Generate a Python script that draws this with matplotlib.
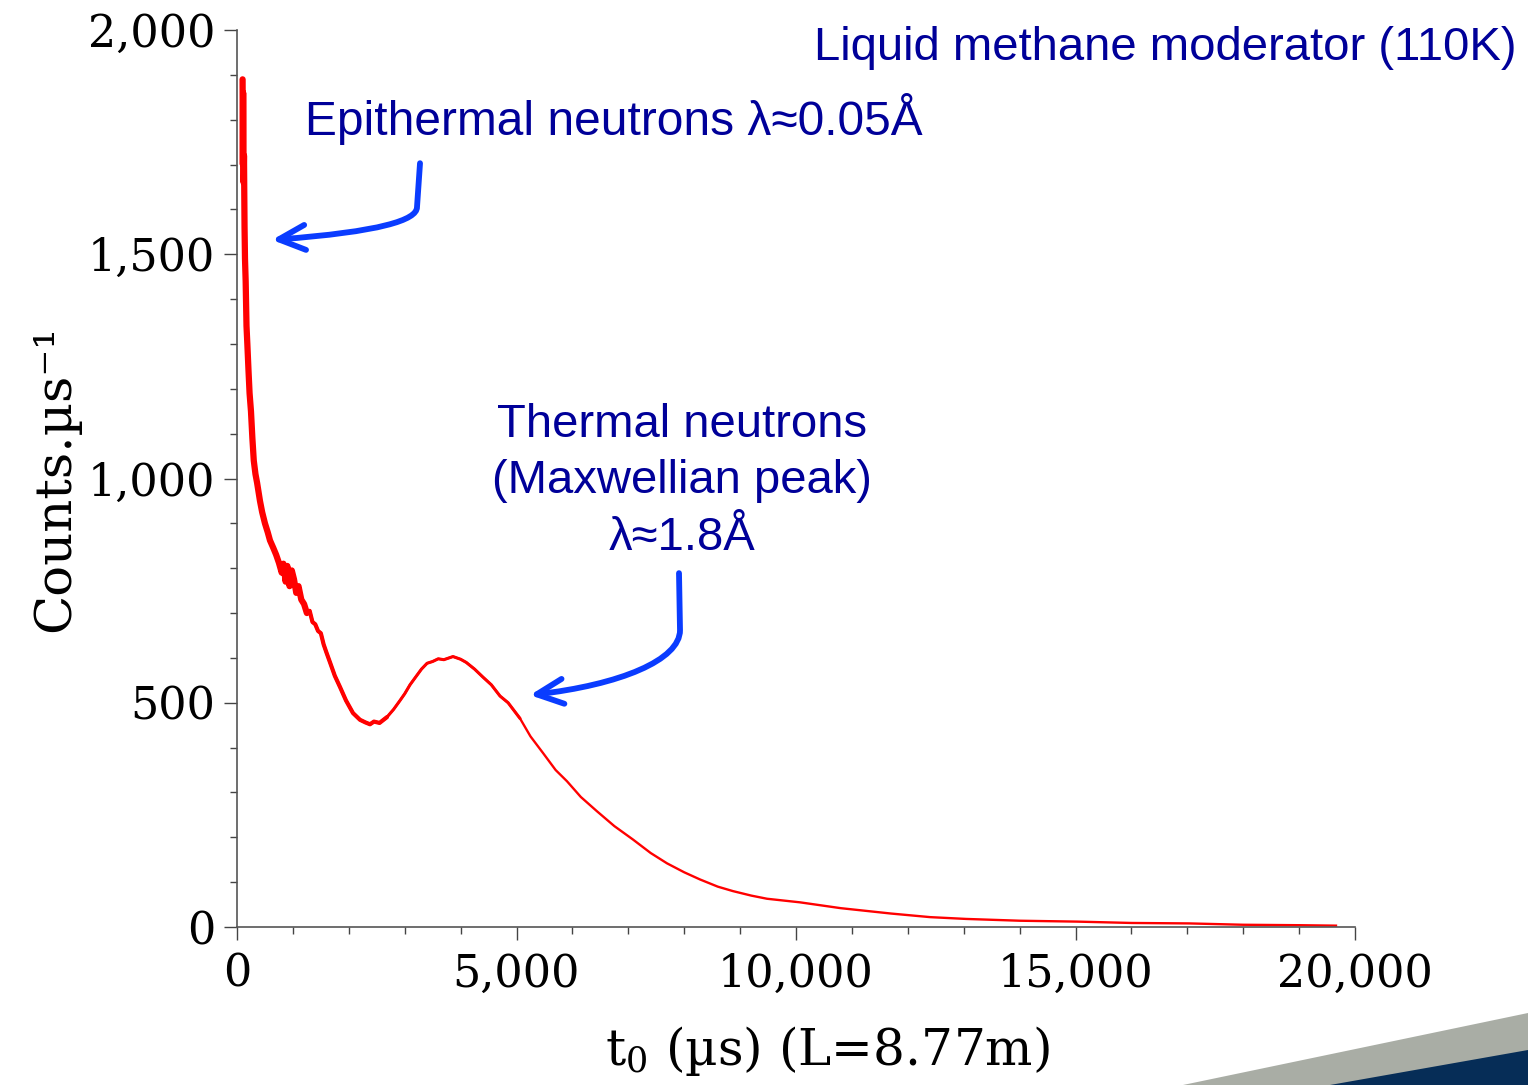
import matplotlib
matplotlib.use("Agg")
import matplotlib.pyplot as plt
from matplotlib.path import Path
from matplotlib.patches import FancyArrowPatch, Polygon
from matplotlib.ticker import MultipleLocator, FuncFormatter

# time of flight (us) and counts per us
t_us = [100, 105, 110, 118, 125, 135, 143, 155, 170, 185, 206, 225, 250, 275, 300,
        330, 360, 411, 450, 500, 550, 590, 650, 700, 750, 800, 830, 870, 900, 940,
        980, 1020, 1060, 1100, 1150, 1200, 1250, 1300, 1350, 1400, 1450, 1500, 1550,
        1600, 1664, 1750, 1843, 1950, 2075, 2200, 2300, 2379, 2450, 2550, 2683, 2800,
        2916, 3000, 3095, 3200, 3300, 3400, 3500, 3600, 3700, 3864, 4000, 4100, 4250,
        4401, 4550, 4705, 4850, 5063, 5250, 5474, 5700, 5903, 6150, 6440, 6750, 7084,
        7400, 7692, 8000, 8283, 8600, 8873, 9200, 9481, 10071, 10800, 11700, 12400,
        13040, 14000, 15030, 16000, 17030, 18000, 19020, 19660]
counts = [1890, 1700, 1860, 1660, 1720, 1560, 1490, 1440, 1340, 1300, 1240, 1190, 1150,
          1090, 1040, 1010, 990, 950, 925, 900, 880, 862, 845, 830, 812, 790, 810, 770,
          805, 760, 795, 775, 745, 760, 730, 720, 700, 705, 680, 675, 660, 655, 630,
          612, 590, 560, 535, 505, 477, 462, 456, 452, 458, 455, 468, 485, 505, 520,
          540, 558, 575, 588, 592, 598, 596, 603, 597, 590, 575, 557, 540, 515, 500,
          465, 425, 388, 350, 325, 290, 258, 225, 195, 165, 142, 122, 106, 90, 80, 70,
          63, 55, 42, 30, 22, 18, 14, 12, 9, 8, 5, 4, 3]

title_text = "Liquid methane moderator (110K)"
epi_text = "Epithermal neutrons λ≈0.05Å"
thermal_lines = ["Thermal neutrons", "(Maxwellian peak)", "λ≈1.8Å"]

plt.rcParams['font.family'] = ['DejaVu Serif']
plt.rcParams['mathtext.fontset'] = 'dejavuserif'

fig = plt.figure(figsize=(15.28, 10.85), dpi=100)
ax = fig.add_axes([237/1528, 158/1085, 1118/1528, 897/1085])

# the noisy early part looks like a thicker band in the original, thinning out
for t_max, lw in [(1250, 4.5), (2700, 3.0), (5200, 2.2)]:
    n = sum(1 for t in t_us if t <= t_max)
    ax.plot(t_us[:n], counts[:n], color='red', lw=lw, solid_joinstyle='round',
            solid_capstyle='round')
ax.plot(t_us, counts, color='red', lw=1.7)

ax.set_xlim(0, 20000)
ax.set_ylim(0, 2000)
for s in ['top', 'right']:
    ax.spines[s].set_visible(False)
for s in ['left', 'bottom']:
    ax.spines[s].set_color('#555555')
    ax.spines[s].set_linewidth(1.2)

ax.xaxis.set_major_locator(MultipleLocator(5000))
ax.xaxis.set_minor_locator(MultipleLocator(1000))
ax.yaxis.set_major_locator(MultipleLocator(500))
ax.yaxis.set_minor_locator(MultipleLocator(100))
fmt = FuncFormatter(lambda v, p: f"{int(v):,}")
ax.xaxis.set_major_formatter(fmt)
ax.yaxis.set_major_formatter(fmt)
ax.tick_params(which='major', direction='out', length=9.5, width=1, color='#444444',
               labelsize=32, pad=6)
ax.tick_params(which='minor', direction='out', length=5, width=1, color='#444444')
ax.tick_params(axis='x', which='major', pad=9)

ax.set_xlabel(r'$\mathrm{t}_0$ (µs) (L=8.77m)', fontsize=36)
ax.xaxis.set_label_coords(0.528, -0.108)
ax.set_ylabel('Counts.µs⁻¹', fontsize=37)
ax.yaxis.set_label_coords(-0.14, 0.5)

# annotations
blue_txt = '#000099'
sans = ['Liberation Sans', 'DejaVu Sans']
fig.text(1517/1528, 1 - 60/1085, title_text, ha='right', va='baseline',
         fontsize=34, color=blue_txt, family=sans)
fig.text(305/1528, 1 - 135/1085, epi_text, ha='left', va='baseline',
         fontsize=34.5, color=blue_txt, family=sans)
for line, base in zip(thermal_lines, [437, 493, 550]):
    fig.text(682/1528, 1 - base/1085, line, ha='center', va='baseline',
             fontsize=34, color=blue_txt, family=sans)

arrow_blue = '#0a3cff'
codes = [Path.MOVETO, Path.LINETO, Path.CURVE4, Path.CURVE4, Path.CURVE4]
arrows = [
    [(3274, 1703), (3220, 1605), (3220, 1576), (2558, 1550), (626, 1532)],
    [(7907, 789), (7925, 662), (7925, 595), (6851, 540), (5241, 517)],
]
for verts in arrows:
    p = FancyArrowPatch(path=Path(verts, codes), arrowstyle='->,head_length=0.95,head_width=0.45',
                        mutation_scale=20, lw=4.2, color=arrow_blue, capstyle='round',
                        joinstyle='round', transform=ax.transData)
    ax.add_patch(p)

# corner decoration
fig.patches.append(Polygon([(1183/1528, 0), (1, 1 - 1013/1085), (1, 0)], closed=True,
                           transform=fig.transFigure, color='#a9ada5', lw=0))
fig.patches.append(Polygon([(1330/1528, 0), (1, 1 - 1050/1085), (1, 0)], closed=True,
                           transform=fig.transFigure, color='#062d57', lw=0))

fig.savefig('out.png', dpi=100)
